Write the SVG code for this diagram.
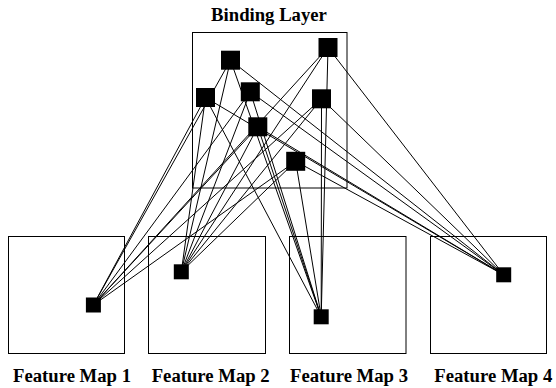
<svg xmlns="http://www.w3.org/2000/svg" width="556" height="388" viewBox="0 0 556 388">
  <style>
    .frame { fill: none; stroke: #000; stroke-width: 1; }
    .unit { fill: #000; }
    .link { stroke: #000; stroke-width: 1; fill: none; }
    .label { font-family: "Liberation Serif", "Times New Roman", serif; font-weight: bold; font-size: 18.7px; fill: #000; }
  </style>
  <rect width="556" height="388" fill="#fff"/>

  <!-- Layer frames and their titles -->
  <g id="binding-layer">
    <rect class="frame" x="192.5" y="32.5" width="154.5" height="155.5"/>
    <text class="label" x="269" y="20.7" text-anchor="middle">Binding Layer</text>
  </g>
  <g id="feature-map-1">
    <rect class="frame" x="8.5" y="236.5" width="116" height="117"/>
    <text class="label" x="13" y="382.3">Feature Map 1</text>
  </g>
  <g id="feature-map-2">
    <rect class="frame" x="148.5" y="236.5" width="117" height="117"/>
    <text class="label" x="151.7" y="382.3">Feature Map 2</text>
  </g>
  <g id="feature-map-3">
    <rect class="frame" x="289.5" y="236.5" width="116.5" height="117"/>
    <text class="label" x="290" y="382.3">Feature Map 3</text>
  </g>
  <g id="feature-map-4">
    <rect class="frame" x="430.5" y="236.5" width="116" height="117"/>
    <text class="label" x="434.3" y="382.3">Feature Map 4</text>
  </g>

  <!-- Every binding unit is wired to one unit in each feature map -->
  <g id="connectors">
    <!-- to feature map 1 unit (93.4, 305) -->
    <line class="link" x1="230.5" y1="60.2" x2="93.4" y2="305"/>
    <line class="link" x1="328" y1="47.5" x2="93.4" y2="305"/>
    <line class="link" x1="205.5" y1="97.5" x2="93.4" y2="305"/>
    <line class="link" x1="250.3" y1="91.8" x2="93.4" y2="305"/>
    <line class="link" x1="321.5" y1="98.8" x2="93.4" y2="305"/>
    <line class="link" x1="257.8" y1="126.8" x2="93.4" y2="305"/>
    <line class="link" x1="295.7" y1="161.3" x2="93.4" y2="305"/>
    <!-- to feature map 2 unit (181.3, 271.8) -->
    <line class="link" x1="230.5" y1="60.2" x2="181.3" y2="271.8"/>
    <line class="link" x1="328" y1="47.5" x2="181.3" y2="271.8"/>
    <line class="link" x1="205.5" y1="97.5" x2="181.3" y2="271.8"/>
    <line class="link" x1="250.3" y1="91.8" x2="181.3" y2="271.8"/>
    <line class="link" x1="321.5" y1="98.8" x2="181.3" y2="271.8"/>
    <line class="link" x1="257.8" y1="126.8" x2="181.3" y2="271.8"/>
    <line class="link" x1="295.7" y1="161.3" x2="181.3" y2="271.8"/>
    <!-- to feature map 3 unit (321.2, 316.8) -->
    <line class="link" x1="230.5" y1="60.2" x2="321.2" y2="316.8"/>
    <line class="link" x1="328" y1="47.5" x2="321.2" y2="316.8"/>
    <line class="link" x1="205.5" y1="97.5" x2="321.2" y2="316.8"/>
    <line class="link" x1="250.3" y1="91.8" x2="321.2" y2="316.8"/>
    <line class="link" x1="321.5" y1="98.8" x2="321.2" y2="316.8"/>
    <line class="link" x1="257.8" y1="126.8" x2="321.2" y2="316.8"/>
    <line class="link" x1="295.7" y1="161.3" x2="321.2" y2="316.8"/>
    <!-- to feature map 4 unit (503.7, 274.8) -->
    <line class="link" x1="230.5" y1="60.2" x2="503.7" y2="274.8"/>
    <line class="link" x1="328" y1="47.5" x2="503.7" y2="274.8"/>
    <line class="link" x1="205.5" y1="97.5" x2="503.7" y2="274.8"/>
    <line class="link" x1="250.3" y1="91.8" x2="503.7" y2="274.8"/>
    <line class="link" x1="321.5" y1="98.8" x2="503.7" y2="274.8"/>
    <line class="link" x1="257.8" y1="126.8" x2="503.7" y2="274.8"/>
    <line class="link" x1="295.7" y1="161.3" x2="503.7" y2="274.8"/>
  </g>

  <!-- Binding units -->
  <g id="binding-unit-1"><rect class="unit" x="221" y="50.7" width="19" height="19"/></g>
  <g id="binding-unit-2"><rect class="unit" x="318.5" y="38" width="19" height="19"/></g>
  <g id="binding-unit-3"><rect class="unit" x="196" y="88" width="19" height="19"/></g>
  <g id="binding-unit-4"><rect class="unit" x="240.8" y="82.3" width="19" height="19"/></g>
  <g id="binding-unit-5"><rect class="unit" x="312" y="89.3" width="19" height="19"/></g>
  <g id="binding-unit-6"><rect class="unit" x="248.3" y="117.3" width="19" height="19"/></g>
  <g id="binding-unit-7"><rect class="unit" x="286.2" y="151.8" width="19" height="19"/></g>

  <!-- Feature map units -->
  <g id="feature-unit-1"><rect class="unit" x="85.9" y="297.5" width="15" height="15"/></g>
  <g id="feature-unit-2"><rect class="unit" x="173.8" y="264.3" width="15" height="15"/></g>
  <g id="feature-unit-3"><rect class="unit" x="313.7" y="309.3" width="15" height="15"/></g>
  <g id="feature-unit-4"><rect class="unit" x="496.2" y="267.3" width="15" height="15"/></g>
</svg>
